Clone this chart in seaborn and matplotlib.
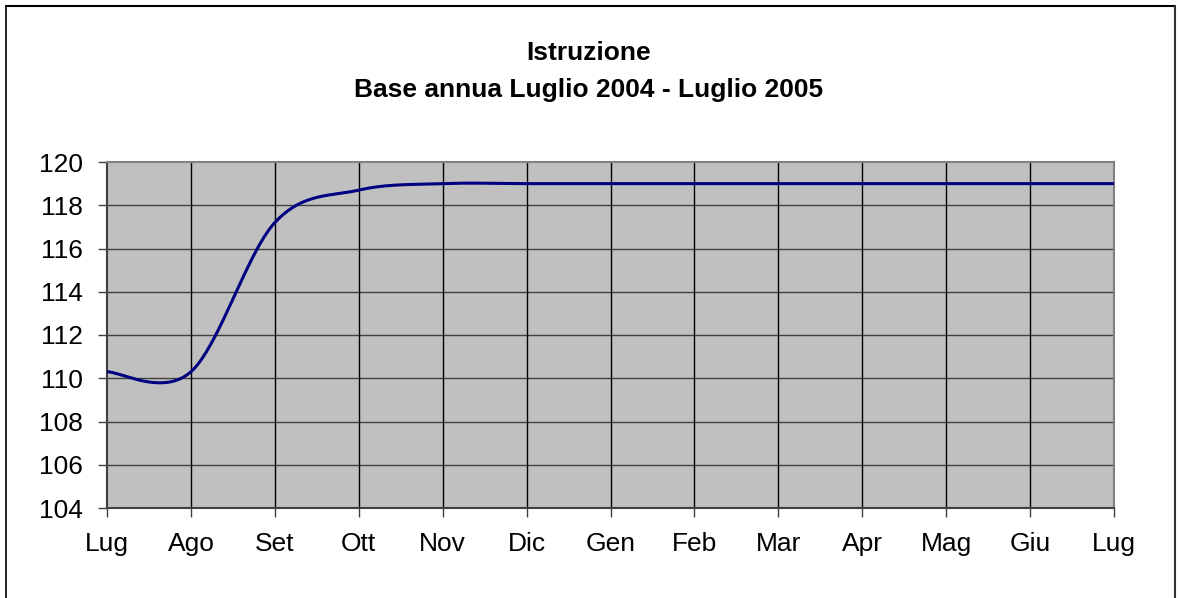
import matplotlib
matplotlib.use('Agg')
import matplotlib.pyplot as plt
from matplotlib.lines import Line2D
import numpy as np
import pandas as pd
import seaborn as sns

# dati
mesi = ["Lug", "Ago", "Set", "Ott", "Nov", "Dic", "Gen", "Feb", "Mar", "Apr", "Mag", "Giu", "Lug"]
valori = [110.3, 110.3, 117.2, 118.7, 119.0, 119.0, 119.0, 119.0, 119.0, 119.0, 119.0, 119.0, 119.0]
y_ticks = [104, 106, 108, 110, 112, 114, 116, 118, 120]
titolo_1 = "Istruzione"
titolo_2 = "Base annua Luglio 2004 - Luglio 2005"


def smooth_line(x, y, n=40):
    """Curva smussata stile Excel (Bezier cubica tipo Catmull-Rom)"""
    x = np.asarray(x, dtype=float)
    y = np.asarray(y, dtype=float)
    px = np.concatenate([[x[0]], x, [x[-1]]])
    py = np.concatenate([[y[0]], y, [y[-1]]])
    t = np.linspace(0, 1, n)
    xs, ys = [], []
    for i in range(len(x) - 1):
        j = i + 1
        p0 = np.array([px[j], py[j]])
        p3 = np.array([px[j + 1], py[j + 1]])
        c1 = p0 + (np.array([px[j + 1], py[j + 1]]) - np.array([px[j - 1], py[j - 1]])) / 6
        c2 = p3 - (np.array([px[j + 2], py[j + 2]]) - np.array([px[j], py[j]])) / 6
        for k in (0, 1):
            pts = ((1 - t) ** 3 * p0[k] + 3 * (1 - t) ** 2 * t * c1[k]
                   + 3 * (1 - t) * t ** 2 * c2[k] + t ** 3 * p3[k])
            (xs if k == 0 else ys).append(pts if i == 0 else pts[1:])
    return np.concatenate(xs), np.concatenate(ys)


sns.set_style("white")
plt.rcParams['font.family'] = ['Liberation Sans', 'DejaVu Sans']
plt.rcParams['text.color'] = 'black'

fig = plt.figure(figsize=(11.78, 5.98), dpi=100)
ax = fig.add_axes([107 / 1178, 1 - 508 / 598, (1114 - 107) / 1178, (508 - 162) / 598])
ax.set_facecolor("#C0C0C0")

pos = np.arange(len(mesi))
sx, sy = smooth_line(pos, valori)
df = pd.DataFrame({"x": sx, "y": sy})
sns.lineplot(data=df, x="x", y="y", ax=ax, color="#000080", linewidth=2.2,
             sort=False, estimator=None, zorder=3)

ax.set_xlim(0, len(mesi) - 1)
ax.set_ylim(104, 120)
ax.set_xticks(pos)
ax.set_xticklabels(mesi)
ax.set_yticks(y_ticks)
ax.set_yticklabels([str(v) for v in y_ticks])
ax.set_xlabel("")
ax.set_ylabel("")

for v in y_ticks[1:-1]:
    ax.axhline(v, color="#404040", linewidth=1.0, zorder=1)
for p in pos[1:-1]:
    ax.axvline(p, color="black", linewidth=1.0, zorder=1)

for s in ax.spines.values():
    s.set_color("#808080")
    s.set_linewidth(1.5)
ax.spines["left"].set_color("#404040")
ax.spines["bottom"].set_color("#404040")

ax.tick_params(axis="both", direction="out", length=6.5, width=1, color="#404040",
               labelsize=19, labelcolor="black")
ax.tick_params(axis="x", pad=11, bottom=True)
ax.tick_params(axis="y", pad=11, left=True)

fig.text(0.5, 1 - 60 / 598, titolo_1, ha="center", va="baseline", fontsize=19,
         fontweight="bold", color="black")
fig.text(0.5, 1 - 97 / 598, titolo_2, ha="center", va="baseline", fontsize=19,
         fontweight="bold", color="black")

# cornice del grafico
fig.add_artist(Line2D([6 / 1178, 6 / 1178], [0, 1 - 6 / 598], color="black", linewidth=1.2))
fig.add_artist(Line2D([6 / 1178, 1175 / 1178], [1 - 6 / 598, 1 - 6 / 598], color="black", linewidth=1.5))
fig.add_artist(Line2D([1175 / 1178, 1175 / 1178], [0, 1 - 6 / 598], color="#303030", linewidth=1.5))

fig.savefig("out.png", dpi=100)
plt.close(fig)
